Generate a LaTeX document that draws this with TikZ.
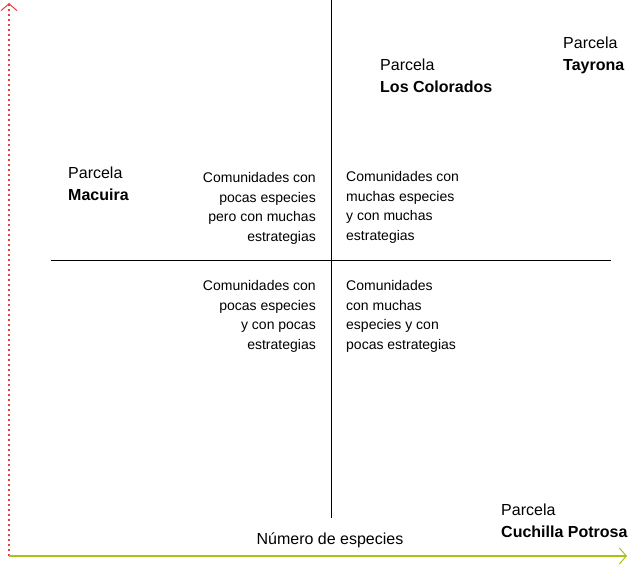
\documentclass[tikz,border=0pt]{standalone}
\usepackage{fontspec}
\setmainfont{Liberation Sans}
\usetikzlibrary{arrows.meta}

\definecolor{ejerojo}{RGB}{238,60,60}
\definecolor{ejeverde}{RGB}{165,195,20}

\tikzset{
  cuadro/.style = {inner sep=0pt, font=\fontsize{14}{19.7}\selectfont},
  parcela/.style = {inner sep=0pt, align=left, anchor=north west, font=\fontsize{16}{22}\selectfont},
}

\begin{document}
\begin{tikzpicture}[x=1pt, y=-1pt]
  \useasboundingbox (0,0) rectangle (631,565);
  % ejes
  \coordinate (origen) at (9,556);
  \coordinate (ytope)  at (9,3);
  \coordinate (xfin)   at (627,556);
  \draw[ejerojo, line width=1.2pt, dash pattern=on 2.5pt off 2.5pt,
        -{Straight Barb[length=7pt, width=16pt, line width=1pt]}] (origen) -- (ytope);
  \draw[ejeverde, line width=1.3pt,
        -{Straight Barb[length=7pt, width=16pt, line width=1pt]}] (origen) -- (xfin);
  % cuadrantes
  \coordinate (vsup) at (331,0);
  \coordinate (vinf) at (331,518);
  \coordinate (hizq) at (51,260);
  \coordinate (hder) at (611,260);
  \draw[line width=0.8pt] (vsup) -- (vinf);
  \draw[line width=0.8pt] (hizq) -- (hder);
  \node [cuadro, align=right, anchor=north east] (pocasMuchas) at (316,172)
    {Comunidades con\\pocas especies\\pero con muchas\\estrategias};
  \node [cuadro, align=left, anchor=north west] (muchasMuchas) at (346,171)
    {Comunidades con\\muchas especies\\y con muchas\\estrategias};
  \node [cuadro, align=right, anchor=north east] (pocasPocas) at (316,280)
    {Comunidades con\\pocas especies\\y con pocas\\estrategias};
  \node [cuadro, align=left, anchor=north west] (muchasPocas) at (346,280)
    {Comunidades\\con muchas\\especies y con\\pocas estrategias};
  % parcelas
  \node [parcela] (tayrona)   at (563,37)  {Parcela\\\textbf{Tayrona}};
  \node [parcela] (colorados) at (380,59)  {Parcela\\\textbf{Los Colorados}};
  \node [parcela] (macuira)   at (68,167)  {Parcela\\\textbf{Macuira}};
  \node [parcela] (cuchilla)  at (501,504) {Parcela\\\textbf{Cuchilla Potrosa}};
  \node [inner sep=0pt, anchor=base, font=\fontsize{16}{19}\selectfont] (xlabel) at (330,544) {Número de especies};
\end{tikzpicture}
\end{document}
